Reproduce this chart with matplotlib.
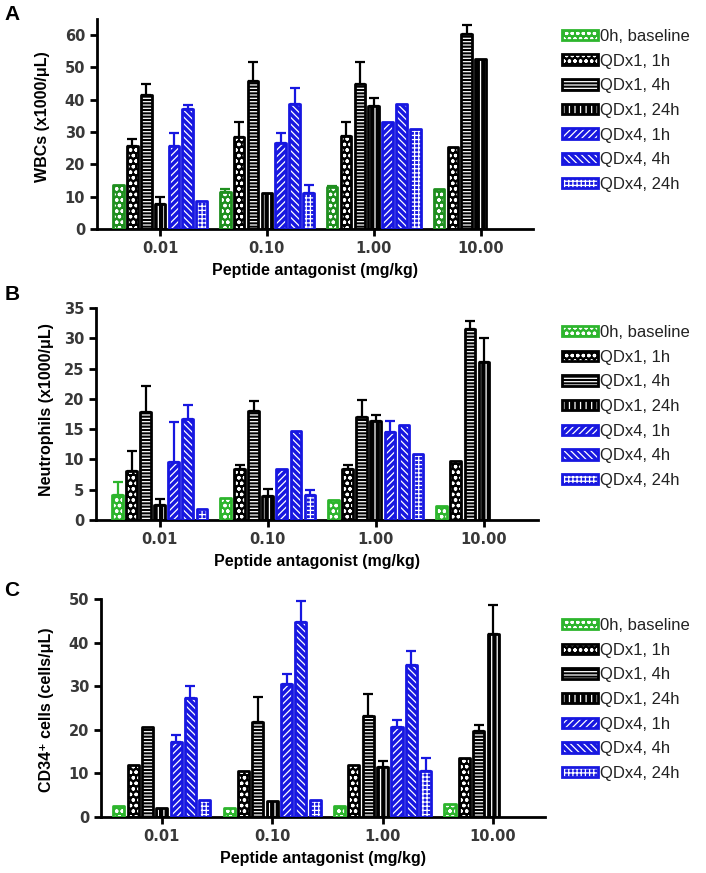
import numpy as np
import matplotlib
matplotlib.use("Agg")
import matplotlib.pyplot as plt
from matplotlib.patches import Patch

plt.rcParams['font.family'] = ['Liberation Sans', 'DejaVu Sans']
plt.rcParams['hatch.linewidth'] = 0.9

nan = np.nan

doses = ['0.01', '0.10', '1.00', '10.00']
series = ['0h, baseline', 'QDx1, 1h', 'QDx1, 4h', 'QDx1, 24h',
          'QDx4, 1h', 'QDx4, 4h', 'QDx4, 24h']

# Panel A - WBCs (x1000/uL), one row per series, one column per dose
wbc = [
    [13.5, 11.3, 13.1, 12.3],
    [25.6, 28.6, 28.9, 25.3],
    [41.6, 45.8, 44.8, 60.5],
    [7.7, 11.0, 38.2, 52.5],
    [25.8, 26.6, 33.0, nan],
    [37.0, 38.8, 38.7, nan],
    [8.8, 11.1, 31.1, nan],
]
wbc_err = [
    [0, 1.0, 0.3, 0],
    [2.2, 4.6, 4.3, 0],
    [3.3, 5.9, 6.9, 2.7],
    [2.1, 0, 2.5, 0],
    [3.8, 3.0, 0, nan],
    [1.5, 4.7, 0, nan],
    [0, 2.5, 0, nan],
]

# Panel B - Neutrophils (x1000/uL)
neut = [
    [4.2, 3.7, 3.3, 2.3],
    [8.1, 8.4, 8.4, 9.8],
    [17.8, 18.0, 17.0, 31.6],
    [2.5, 4.0, 16.4, 26.1],
    [9.5, 8.5, 14.6, nan],
    [16.6, 14.7, 15.7, nan],
    [1.8, 4.1, 10.9, nan],
]
neut_err = [
    [2.1, 0, 0, 0],
    [3.3, 0.6, 0.6, 0],
    [4.3, 1.7, 2.8, 1.3],
    [0.9, 1.1, 1.0, 3.9],
    [6.6, 0, 1.8, nan],
    [2.4, 0, 0, nan],
    [0, 0.8, 0, nan],
]

# Panel C - CD34+ cells (cells/uL)
cd34 = [
    [2.5, 2.0, 2.5, 3.0],
    [12.0, 10.5, 11.9, 13.5],
    [20.6, 21.8, 23.2, 19.7],
    [2.0, 3.6, 11.5, 42.0],
    [17.2, 30.4, 20.7, nan],
    [27.4, 44.8, 34.8, nan],
    [3.8, 4.0, 10.5, nan],
]
cd34_err = [
    [0, 0, 0, 0],
    [0, 0, 0, 0],
    [0, 5.7, 5.0, 1.5],
    [0, 0, 1.3, 6.6],
    [1.7, 2.3, 1.5, nan],
    [2.7, 4.7, 3.2, nan],
    [0, 0, 3.1, nan],
]

BLUE = '#1717e0'
hatches = ['ooo', 'ooo', '-----', '|||', '/////', '\\\\\\\\\\', '++++']
step = 0.13
width = 0.1

W, H = 706, 873
fig = plt.figure(figsize=(W / 100, H / 100), dpi=100)


def ax_at(left, right, top, bottom):
    return fig.add_axes([left / W, 1 - bottom / H, (right - left) / W, (bottom - top) / H])


def draw_panel(ax, vals, errs, green, ymax, ytop, xlim):
    colors = [green, 'black', 'black', 'black', BLUE, BLUE, BLUE]
    x = np.arange(len(doses))
    for i in range(len(series)):
        xs = x + (i - 3) * step
        v = np.array(vals[i], dtype=float)
        e = np.array(errs[i], dtype=float)
        ok = ~np.isnan(v)
        ax.bar(xs[ok], v[ok], width, color=colors[i], edgecolor='white',
               hatch=hatches[i], linewidth=0, zorder=2)
        ax.bar(xs[ok], v[ok], width, fill=False, edgecolor=colors[i],
               linewidth=2, joinstyle='round', zorder=3)
        has_err = ok & (np.nan_to_num(e) > 0)
        ax.errorbar(xs[has_err], v[has_err],
                    yerr=[np.zeros(has_err.sum()), e[has_err]],
                    fmt='none', ecolor=colors[i], elinewidth=1.6,
                    capsize=3.5, capthick=1.6, zorder=1)
    ax.set_xlim(*xlim)
    ax.set_ylim(0, ytop)
    ax.set_yticks(np.arange(0, ymax + 1, 10 if ymax > 40 else 5))
    ax.set_xticks(x)
    ax.set_xticklabels(doses)
    for s in ['top', 'right']:
        ax.spines[s].set_visible(False)
    for s in ['left', 'bottom']:
        ax.spines[s].set_linewidth(2)
    ax.tick_params(width=2, length=5, colors='black', labelcolor='#383838')
    for lab in ax.get_xticklabels() + ax.get_yticklabels():
        lab.set_fontweight('bold')
        lab.set_fontfamily('DejaVu Sans')
        lab.set_fontsize(10.5)
    ax.set_xlabel('Peptide antagonist (mg/kg)', fontsize=11.5,
                  fontweight='bold', labelpad=5)

    handles = [(Patch(facecolor=c, edgecolor='white', hatch=h, linewidth=0),
                Patch(fill=False, edgecolor=c, linewidth=2))
               for c, h in zip(colors, hatches)]
    return handles


axA = ax_at(97, 533, 19, 229)
hA = draw_panel(axA, wbc, wbc_err, '#1f8f1f', 60, 65, (-0.59, 3.49))
axB = ax_at(96, 538, 308, 520)
hB = draw_panel(axB, neut, neut_err, '#2db52d', 35, 35, (-0.59, 3.5))
axC = ax_at(101, 545, 599, 817)
hC = draw_panel(axC, cd34, cd34_err, '#2db52d', 50, 50, (-0.55, 3.47))

legend_green = '#2db52d'
for ax, handles, ytop in [(axA, hA, 29), (axB, hB, 325), (axC, hC, 618)]:
    handles[0] = (Patch(facecolor=legend_green, edgecolor='white', hatch='ooo', linewidth=0),
                  Patch(fill=False, edgecolor=legend_green, linewidth=2))
    ax.legend(handles, series, loc='upper left',
              bbox_to_anchor=(562 / W, 1 - ytop / H), bbox_transform=fig.transFigure,
              frameon=False, fontsize=12, handlelength=2.15, handleheight=0.6,
              handletextpad=0.15, labelspacing=0.58, borderpad=0, borderaxespad=0,
              labelcolor='#222222')

ylabels = [('WBCs (x1000/μL)', 43, 117), ('Neutrophils (x1000/μL)', 47, 410),
           ('CD34⁺ cells (cells/μL)', 47, 710)]
for text, x, y in ylabels:
    fig.text(x / W, 1 - y / H, text, rotation=90, ha='center', va='center',
             fontsize=11.5, fontweight='bold')

for letter, y in [('A', 15), ('B', 295), ('C', 590)]:
    fig.text(12 / W, 1 - y / H, letter, ha='center', va='center',
             fontsize=15, fontweight='bold')

fig.savefig('out.png', dpi=100)
